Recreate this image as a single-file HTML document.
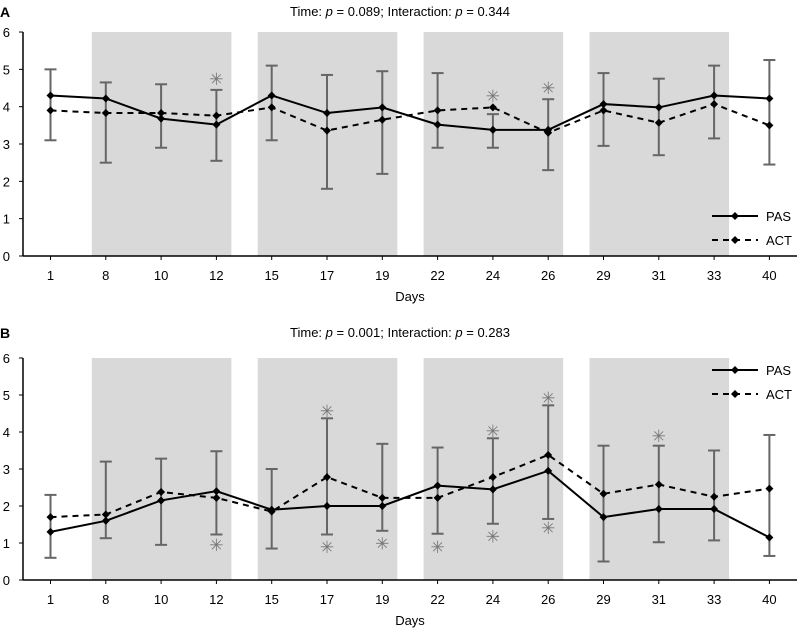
<!DOCTYPE html>
<html><head><meta charset="utf-8"><style>
body{margin:0;background:#fff}
svg text{font-family:"Liberation Sans",sans-serif;fill:#000}
</style></head><body>
<svg id="c" width="800" height="628" xmlns="http://www.w3.org/2000/svg"></svg>
<script>
const days=["1","8","10","12","15","17","19","22","24","26","29","31","33","40"];
const yTicks=[0,1,2,3,4,5,6];
const bands=[[1,3],[4,6],[7,9],[10,12]];
const pasA=[4.3,4.22,3.68,3.52,4.3,3.83,3.98,3.52,3.38,3.38,4.07,3.98,4.3,4.22];
const actA=[3.9,3.83,3.83,3.76,3.98,3.36,3.65,3.9,3.98,3.3,3.9,3.57,4.07,3.5];
const errLowA=[3.1,2.5,2.9,2.55,3.1,1.8,2.2,2.9,2.9,2.3,2.95,2.7,3.15,2.45];
const errHighA=[5.0,4.65,4.6,4.45,5.1,4.85,4.95,4.9,3.8,4.2,4.9,4.75,5.1,5.25];
const starsA=[[3,4.77],[8,4.31],[9,4.53]];
const pasB=[1.3,1.6,2.15,2.4,1.9,2.0,2.0,2.55,2.45,2.95,1.7,1.92,1.92,1.15];
const actB=[1.7,1.77,2.38,2.22,1.85,2.78,2.22,2.22,2.78,3.38,2.33,2.58,2.25,2.47];
const errLowB=[0.6,1.13,0.95,1.23,0.85,1.23,1.33,1.25,1.52,1.65,0.5,1.02,1.07,0.65];
const errHighB=[2.3,3.2,3.28,3.48,3.0,4.37,3.68,3.58,3.83,4.72,3.63,3.63,3.5,3.92];
const starsB=[[5,4.6],[8,4.05],[9,4.95],[11,3.92],[3,0.97],[5,0.92],[6,1.02],[7,0.92],[8,1.2],[9,1.43]];
const NS="http://www.w3.org/2000/svg",svg=document.getElementById('c');
function mk(t,a,p){const e=document.createElementNS(NS,t);for(const k in a)e.setAttribute(k,a[k]);(p||svg).appendChild(e);return e;}
function panel(o){
  const g=mk('g',{});
  
  
  const X=i=>50.5+i*55.3, Y=v=>o.y0-v*o.unit;
  bands.forEach(b=>{const r=mk('rect',{x:X(b[0])-14,y:Y(6),width:(b[1]-b[0])*55.3+29,height:6*o.unit,fill:'#d9d9d9'},g);
    
    });
  mk('line',{x1:23,y1:Y(6),x2:23,y2:Y(0),stroke:'#000','stroke-width':1.5},g);
  mk('line',{x1:23,y1:Y(0),x2:797,y2:Y(0),stroke:'#000','stroke-width':1.5},g);
  yTicks.forEach(v=>{mk('line',{x1:19,y1:Y(v),x2:23,y2:Y(v),stroke:'#000'},g);
    const t=mk('text',{x:10,y:Y(v)+5,'font-size':13,'text-anchor':'end'},g);t.textContent=v;
    
    });
  days.forEach((d,i)=>{mk('line',{x1:X(i),y1:Y(0),x2:X(i),y2:Y(0)+4,stroke:'#000'},g);
    const t=mk('text',{x:X(i),y:Y(0)+24,'font-size':13,'text-anchor':'middle'},g);t.textContent=d;
    
    });
  const xt=mk('text',{x:410,y:Y(0)+45,'font-size':13,'text-anchor':'middle'},g);xt.textContent='Days';
  
  
  o.lo.forEach((l,i)=>{const h=o.hi[i];
    mk('line',{x1:X(i),y1:Y(l),x2:X(i),y2:Y(h),stroke:'#666','stroke-width':2},g);
    mk('line',{x1:X(i)-6,y1:Y(l),x2:X(i)+6,y2:Y(l),stroke:'#666','stroke-width':2},g);
    mk('line',{x1:X(i)-6,y1:Y(h),x2:X(i)+6,y2:Y(h),stroke:'#666','stroke-width':2},g);});
  [[o.act,'6,5','act-line'],[o.pas,'','pas-line']].forEach(s=>{
    const p=mk('polyline',{points:s[0].map((v,i)=>X(i)+','+Y(v)).join(' '),fill:'none',stroke:'#000','stroke-width':2,'stroke-dasharray':s[1]},g);
    
    
    s[0].forEach((v,i)=>mk('path',{d:`M${X(i)},${Y(v)-4}l4,4l-4,4l-4,-4z`,fill:'#000'},g));});
  o.stars.forEach(s=>{const t=mk('text',{x:X(s[0]),y:Y(s[1])+7,'font-size':17,'text-anchor':'middle',style:'fill:#777'},g);t.textContent='✳';
    
    });
  [[o.legY,'','PAS'],[o.legY+24,'6,5','ACT']].forEach(l=>{
    mk('line',{x1:712,y1:l[0],x2:758,y2:l[0],stroke:'#000','stroke-width':2,'stroke-dasharray':l[1]},g);
    mk('path',{d:`M735,${l[0]-4}l4,4l-4,4l-4,-4z`,fill:'#000'},g);
    const t=mk('text',{x:766,y:l[0]+5,'font-size':13},g);t.textContent=l[2];
    
    });
  const lb=mk('text',{x:0,y:o.ty+1,'font-size':14,'font-weight':'bold'},g);lb.textContent=o.label;
  
  
  const tt=mk('text',{x:400,y:o.ty,'font-size':13,'text-anchor':'middle'},g);
  tt.innerHTML='Time: <tspan font-style="italic">p</tspan> = '+o.pt+'; Interaction: <tspan font-style="italic">p</tspan> = '+o.pi;
  
  
}
panel({name:'panel-a',label:'A',y0:256,unit:37.33,pas:pasA,act:actA,lo:errLowA,hi:errHighA,stars:starsA,legY:216,ty:16,pt:'0.089',pi:'0.344'});
panel({name:'panel-b',label:'B',y0:580,unit:37,pas:pasB,act:actB,lo:errLowB,hi:errHighB,stars:starsB,legY:370,ty:337,pt:'0.001',pi:'0.283'});
</script>
</body></html>
